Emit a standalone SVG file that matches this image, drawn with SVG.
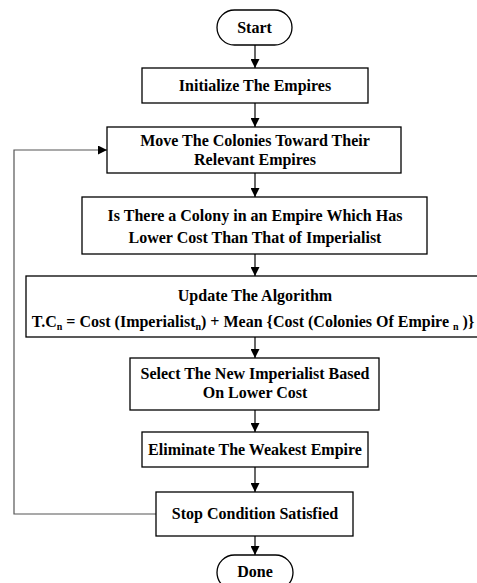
<svg xmlns="http://www.w3.org/2000/svg" width="477" height="583" viewBox="0 0 477 583">
<defs>
<marker id="ah" viewBox="0 0 10 10" refX="10" refY="5" markerWidth="9" markerHeight="9" markerUnits="userSpaceOnUse" orient="auto">
<path d="M0,0 L10,5 L0,10 z" fill="#000"/>
</marker>
<style>
.box{fill:#fff;stroke:#000;stroke-width:1.3}
.t{font-family:"Liberation Serif","Times New Roman",serif;font-weight:bold;font-size:16px;fill:#000;text-anchor:middle}
.c{stroke:#000;stroke-width:1.2;fill:none}
.sub{font-size:10px}
</style>
</defs>
<rect width="477" height="583" fill="#fff"/>
<g id="connectors">
<line class="c" x1="255" y1="45" x2="255" y2="68" marker-end="url(#ah)"/>
<line class="c" x1="255" y1="103" x2="255" y2="127" marker-end="url(#ah)"/>
<line class="c" x1="255" y1="173" x2="255" y2="197" marker-end="url(#ah)"/>
<line class="c" x1="255" y1="254" x2="255" y2="276" marker-end="url(#ah)"/>
<line class="c" x1="255" y1="337" x2="255" y2="358" marker-end="url(#ah)"/>
<line class="c" x1="255" y1="410" x2="255" y2="432" marker-end="url(#ah)"/>
<line class="c" x1="255" y1="467" x2="255" y2="492" marker-end="url(#ah)"/>
<line class="c" x1="255" y1="536" x2="255" y2="555" marker-end="url(#ah)"/>
<polyline class="c" style="stroke:#555" points="156,514 14,514 14,150 107,150" marker-end="url(#ah)"/>
</g>
<g id="start">
<rect class="box" x="217" y="10" width="75" height="35" rx="17.5"/>
<text class="t" x="254.5" y="33">Start</text>
</g>
<g id="init">
<rect class="box" x="142" y="68" width="226" height="35"/>
<text class="t" x="255" y="91">Initialize The Empires</text>
</g>
<g id="move">
<rect class="box" x="107" y="127" width="294" height="46"/>
<text class="t" x="255" y="146">Move The Colonies Toward Their</text>
<text class="t" x="255" y="165">Relevant Empires</text>
</g>
<g id="check">
<rect class="box" x="82" y="197" width="345" height="57"/>
<text class="t" x="255" y="221">Is There a Colony in an Empire Which Has</text>
<text class="t" x="255" y="243">Lower Cost Than That of Imperialist</text>
</g>
<g id="update">
<rect class="box" x="26" y="276" width="470" height="61"/>
<text class="t" x="255" y="301">Update The Algorithm</text>
<text class="t" x="253" y="327">T.C<tspan class="sub" dy="3">n</tspan><tspan dy="-3"> = Cost (Imperialist</tspan><tspan class="sub" dy="3">n</tspan><tspan dy="-3">) + Mean {Cost (Colonies Of Empire </tspan><tspan class="sub" dy="3">n</tspan><tspan dy="-3"> )}</tspan></text>
</g>
<g id="select">
<rect class="box" x="130" y="358" width="249" height="52"/>
<text class="t" x="255" y="379">Select The New Imperialist Based</text>
<text class="t" x="255" y="398">On Lower Cost</text>
</g>
<g id="eliminate">
<rect class="box" x="142" y="432" width="226" height="35"/>
<text class="t" x="255" y="455">Eliminate The Weakest Empire</text>
</g>
<g id="stop">
<rect class="box" x="156" y="492" width="197" height="44"/>
<text class="t" x="255" y="519">Stop Condition Satisfied</text>
</g>
<g id="done">
<rect class="box" x="217" y="555" width="76" height="35" rx="17.5"/>
<text class="t" x="255" y="577">Done</text>
</g>
</svg>
